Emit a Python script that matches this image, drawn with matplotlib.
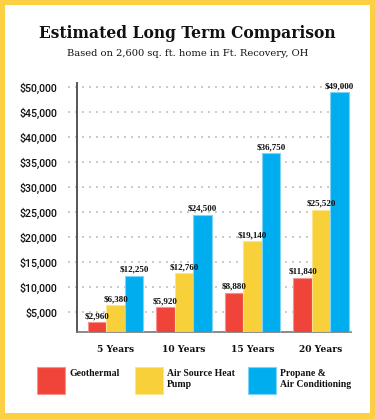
import numpy as np
import matplotlib
matplotlib.use("Agg")
import matplotlib.pyplot as plt
from matplotlib.patches import Rectangle
import matplotlib.transforms as mtrans

# data
years = ["5 Years", "10 Years", "15 Years", "20 Years"]
geothermal = [2960, 5920, 8880, 11840]
air_source = [6380, 12760, 19140, 25520]
propane = [12250, 24500, 36750, 49000]
series_names = ["Geothermal", "Air Source Heat\nPump", "Propane &\nAir Conditioning"]
yticks = [5000, 10000, 15000, 20000, 25000, 30000, 35000, 40000, 45000, 50000]

RED = "#f0443a"
YEL = "#f8d13a"
BLU = "#00aeef"
EDGES = ["#f7918c", "#fbe48a", "#7fd4f5"]
BORDER = "#fcd042"

W, H = 375, 419
fig = plt.figure(figsize=(W / 100, H / 100), dpi=100)
fig.patch.set_facecolor(BORDER)
fig.add_artist(Rectangle((5 / W, 6 / H), 365 / W, 408 / H, transform=fig.transFigure,
                         facecolor="white", edgecolor="none", zorder=-5))

SLAB = "DejaVu Serif"
NARROW = "Liberation Serif"
SANS = "Roboto"

fig.text(0.5, 1 - 33 / H, "Estimated Long Term Comparison", ha="center", va="center",
         family=SLAB, fontweight="bold", fontsize=11.2, color="#111111")
fig.text(0.5, 1 - 53 / H, "Based on 2,600 sq. ft. home in Ft. Recovery, OH", ha="center",
         va="center", family=SLAB, fontsize=7.1, color="#111111")

ax_l, ax_r, ax_b, ax_t = 76.7, 351, 332, 83
ax = fig.add_axes([ax_l / W, 1 - ax_b / H, (ax_r - ax_l) / W, (ax_b - ax_t) / H])
ax.set_facecolor("none")

ppu = 68.5
x0 = -(115.5 - ax_l) / ppu
ax.set_xlim(x0, x0 + (ax_r - ax_l) / ppu)
ax.set_ylim(1000, 50860)

x = np.arange(len(years))
bw = 0.27
colors = [RED, YEL, BLU]
for k, vals in enumerate([geothermal, air_source, propane]):
    xs = x + (k - 1) * bw
    ax.bar(xs, vals, width=bw, color=colors[k], edgecolor=EDGES[k], linewidth=0.8, zorder=3)
    for xi, v in zip(xs, vals):
        ax.text(xi, v + 400, f"${v:,}", ha="center", va="bottom", family=NARROW,
                fontweight="bold", fontsize=6.5, color="#111111", zorder=4)

# dotted gridlines extending left of the spine
trans = mtrans.blended_transform_factory(fig.transFigure, ax.transData)
for yv in yticks:
    ax.plot([68 / W, 355 / W], [yv, yv], transform=trans, color="#c8c8c8",
            linestyle=(0, (1, 2.6)), linewidth=1.4, clip_on=False, zorder=1)

ax.set_yticks(yticks)
ax.set_yticklabels([f"${v:,}" for v in yticks], family=SANS, fontweight="medium",
                   fontsize=7.7, color="#111111")
ax.set_xticks(x)
ax.set_xticklabels(years, family=SLAB, fontweight="bold", fontsize=6.6, color="#111111")
ax.tick_params(axis="y", length=0, pad=14)
ax.tick_params(axis="x", length=0, pad=9)

for s in ["top", "right"]:
    ax.spines[s].set_visible(False)
ax.spines["left"].set_color("#555555")
ax.spines["left"].set_linewidth(1.4)
ax.spines["bottom"].set_color("#777777")
ax.spines["bottom"].set_linewidth(1.2)

# legend drawn by hand
leg_x = [37, 135, 248]
txt_x = [70, 167, 280]
for k in range(3):
    fig.add_artist(Rectangle((leg_x[k] / W, 1 - 394 / H), 28 / W, 27 / H,
                             transform=fig.transFigure, facecolor=colors[k],
                             edgecolor=EDGES[k], linewidth=0.8))
    fig.text(txt_x[k] / W, 1 - 369 / H, series_names[k], ha="left", va="top",
             family=NARROW, fontweight="bold", fontsize=7, color="#111111",
             linespacing=1.35)

fig.savefig("out.png", dpi=100, facecolor=fig.get_facecolor())
